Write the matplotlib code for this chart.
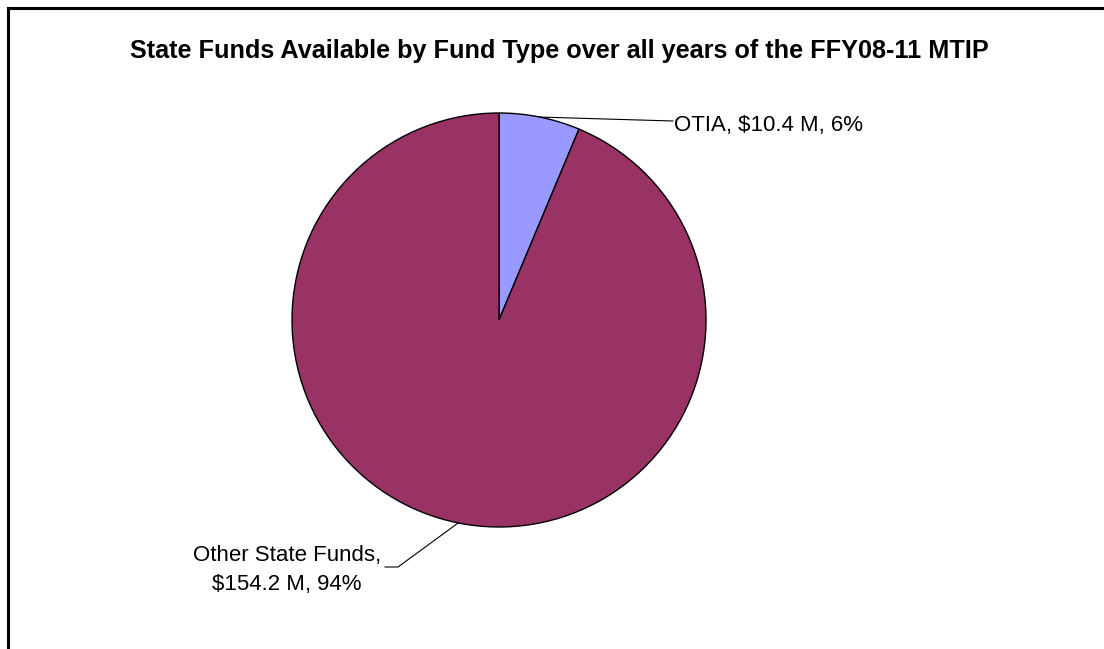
import numpy as np
import matplotlib
matplotlib.use("Agg")
import matplotlib.pyplot as plt

categories = ["OTIA", "Other State Funds"]
values = [10.4, 154.2]          # $ millions
pct_labels = ["6%", "94%"]
colors = ["#9999FF", "#993366"]
title = "State Funds Available by Fund Type over all years of the FFY08-11 MTIP"

plt.rcParams['font.family'] = ['Liberation Sans', 'DejaVu Sans']

W, H = 1104, 649
fig = plt.figure(figsize=(W/100, H/100), dpi=100)
ax = fig.add_axes([0, 0, 1, 1])
ax.set_xlim(0, W)
ax.set_ylim(0, H)
ax.set_aspect('equal')
ax.axis('off')

cx, cy, R = 499, H - 320, 207
wedges, _ = ax.pie(values, colors=colors, startangle=90, counterclock=False,
                   center=(cx, cy), radius=R,
                   wedgeprops=dict(edgecolor='black', linewidth=1.0))
ax.set_xlim(0, W)
ax.set_ylim(0, H)

# border (left & top lines)
ax.plot([8, 8, W + 5], [-5, H - 8, H - 8], color='black', lw=2.2, solid_joinstyle='miter')

ax.text(559, H - 58, title, ha='center', va='baseline', fontsize=18.2, fontweight='bold')

# labels with leader lines
def mid_point(w):
    a = np.deg2rad((w.theta1 + w.theta2) / 2)
    return cx + R * np.cos(a), cy + R * np.sin(a)

# OTIA
px, py = mid_point(wedges[0])
ax.plot([px, 673], [py, H - 121], color='black', lw=0.8)
ax.text(674, H - 131, f"{categories[0]}, ${values[0]:.1f} M, {pct_labels[0]}",
        ha='left', va='baseline', fontsize=16)

# Other
px, py = mid_point(wedges[1])
ax.plot([px, 398, 385], [py, H - 567, H - 567], color='black', lw=0.8)
ax.text(287, H - 561, f"{categories[1]},", ha='center', va='baseline', fontsize=16)
ax.text(287, H - 590, f"${values[1]:.1f} M, {pct_labels[1]}", ha='center', va='baseline', fontsize=16)

fig.savefig("out.png", dpi=100)
